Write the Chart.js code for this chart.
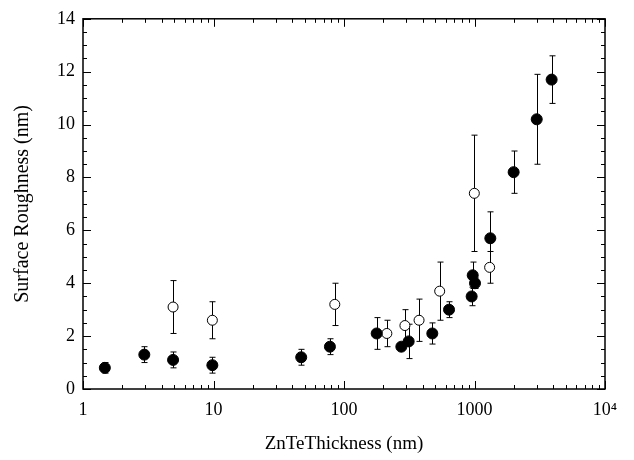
<!DOCTYPE html>
<html><head><meta charset="utf-8">
<script src="https://cdn.jsdelivr.net/npm/chart.js@4/dist/chart.umd.min.js"></script>
<style>html,body{margin:0;padding:0;background:#fff}</style>
</head><body>
<canvas id="c" width="634" height="460"></canvas>
<script>
// Filled circles (series 1)
const filledX   = [1.47, 2.95, 4.9, 9.8, 47, 78, 178, 275, 313, 475, 638, 951, 969, 1009, 1322, 1995, 2998, 3900];
const filledY   = [0.8, 1.3, 1.1, 0.9, 1.2, 1.6, 2.1, 1.6, 1.8, 2.1, 3.0, 3.5, 4.3, 4.0, 5.7, 8.2, 10.2, 11.7];
const filledErr = [0.2, 0.3, 0.3, 0.3, 0.3, 0.3, 0.6, 0.1, 0.65, 0.4, 0.3, 0.35, 0.5, 0.2, 1.0, 0.8, 1.7, 0.9];
// Open circles (series 2)
const openX   = [4.9, 9.8, 85, 213, 293, 376, 541, 997, 1306];
const openY   = [3.1, 2.6, 3.2, 2.1, 2.4, 2.6, 3.7, 7.4, 4.6];
const openErr = [1.0, 0.7, 0.8, 0.5, 0.6, 0.8, 1.1, 2.2, 0.6];
// Axis ticks / labels
const xMajorTicks = [1, 10, 100, 1000, 10000];
const xTickLabels = ['1', '10', '100', '1000', '10\u2074'];
const yMajorTicks = [0, 2, 4, 6, 8, 10, 12, 14];
const xTitle = 'ZnTeThickness (nm)';
const yTitle = 'Surface Roughness (nm)';

const toPts = (xs, ys) => xs.map((x, i) => ({x: x, y: ys[i]}));

const errorBars = {
  id: 'errorBars',
  beforeDatasetsDraw(chart) {
    const ctx = chart.ctx, xs = chart.scales.x, ys = chart.scales.y;
    ctx.save();
    ctx.strokeStyle = '#000';
    ctx.lineWidth = 1;
    chart.data.datasets.forEach(ds => {
      ds.data.forEach((p, j) => {
        const e = ds.errors[j];
        const px = Math.round(xs.getPixelForValue(p.x)) + 0.5;
        const yt = ys.getPixelForValue(p.y + e);
        const yb = ys.getPixelForValue(p.y - e);
        ctx.beginPath();
        ctx.moveTo(px, yt); ctx.lineTo(px, yb);
        ctx.moveTo(px - 3, yt); ctx.lineTo(px + 3, yt);
        ctx.moveTo(px - 3, yb); ctx.lineTo(px + 3, yb);
        ctx.stroke();
      });
    });
    ctx.restore();
  }
};

const frameTicks = {
  id: 'frameTicks',
  afterDraw(chart) {
    const ctx = chart.ctx, a = chart.chartArea, xs = chart.scales.x, ys = chart.scales.y;
    ctx.save();
    ctx.strokeStyle = '#000';
    ctx.lineWidth = 1.5;
    ctx.strokeRect(a.left, a.top, a.right - a.left, a.bottom - a.top);
    ctx.lineWidth = 1;
    ctx.beginPath();
    // x ticks
    for (let d = 0; d < xMajorTicks.length; d++) {
      const base = xMajorTicks[d];
      const px = Math.round(xs.getPixelForValue(base)) + 0.5;
      ctx.moveTo(px, a.bottom); ctx.lineTo(px, a.bottom - 8);
      ctx.moveTo(px, a.top); ctx.lineTo(px, a.top + 8);
      if (d < xMajorTicks.length - 1) {
        for (let m = 2; m <= 9; m++) {
          const mx = Math.round(xs.getPixelForValue(base * m)) + 0.5;
          ctx.moveTo(mx, a.bottom); ctx.lineTo(mx, a.bottom - 4);
          ctx.moveTo(mx, a.top); ctx.lineTo(mx, a.top + 4);
        }
      }
    }
    // y ticks
    for (let v = 0; v <= 14; v += 0.5) {
      const py = Math.round(ys.getPixelForValue(v)) + 0.5;
      const len = (v % 2 === 0) ? 8 : 4;
      ctx.moveTo(a.left, py); ctx.lineTo(a.left + len, py);
      ctx.moveTo(a.right, py); ctx.lineTo(a.right - len, py);
    }
    ctx.stroke();
    ctx.restore();
  }
};

Chart.defaults.font.family = '"Liberation Serif", "Times New Roman", serif';
Chart.defaults.color = '#000';

new Chart(document.getElementById('c'), {
  type: 'scatter',
  data: {
    datasets: [
      {
        label: 'filled',
        data: toPts(filledX, filledY),
        errors: filledErr,
        pointRadius: 5.5,
        pointBackgroundColor: '#000',
        pointBorderColor: '#000',
        pointBorderWidth: 1
      },
      {
        label: 'open',
        data: toPts(openX, openY),
        errors: openErr,
        pointRadius: 5,
        pointBackgroundColor: '#fff',
        pointBorderColor: '#000',
        pointBorderWidth: 1
      }
    ]
  },
  options: {
    responsive: false,
    animation: false,
    layout: { padding: { top: 13, right: 29, left: 0, bottom: 0 } },
    plugins: { legend: { display: false }, tooltip: { enabled: false } },
    scales: {
      x: {
        type: 'logarithmic',
        min: 1, max: 10000,
        grid: { display: false, drawTicks: false },
        border: { display: false },
        afterFit: s => { s.height = 71; },
        ticks: {
          autoSkip: false, maxRotation: 0, padding: 10,
          font: { size: 18 },
          callback: function (v) {
            const i = xMajorTicks.indexOf(Number(v));
            return i >= 0 ? xTickLabels[i] : '';
          }
        },
        title: { display: true, text: xTitle, font: { size: 19 }, padding: { top: 0, bottom: 5 } }
      },
      y: {
        min: 0, max: 14,
        grid: { display: false, drawTicks: false },
        border: { display: false },
        afterFit: s => { s.width = 83; },
        ticks: {
          stepSize: 2, padding: 8,
          font: { size: 18 },
          callback: v => (yMajorTicks.includes(v) ? String(v) : '')
        },
        title: { display: true, text: yTitle, font: { size: 20 }, padding: { top: 11, bottom: 0 } }
      }
    }
  },
  plugins: [errorBars, frameTicks]
});
</script>
</body></html>
